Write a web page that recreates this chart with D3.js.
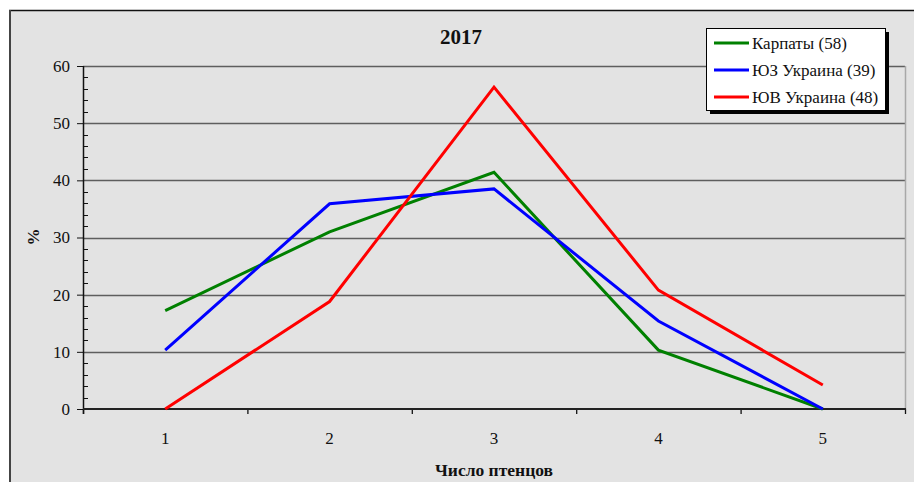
<!DOCTYPE html>
<html>
<head>
<meta charset="utf-8">
<script src="https://cdn.jsdelivr.net/npm/d3@7"></script>
<style>
  html, body { margin: 0; padding: 0; background: #ffffff; }
  svg { display: block; font-family: "Liberation Serif", "Times New Roman", serif; }
  svg text { font-family: "Liberation Serif", "Times New Roman", serif; }
</style>
</head>
<body>
<svg id="chart" width="914" height="482"></svg>
<script>
// Brood size distribution, 2017 (% of nests)
const categories = [1, 2, 3, 4, 5];
const seriesNames = ["Карпаты (58)", "ЮЗ Украина (39)", "ЮВ Украина (48)"];
const karpaty = [17.2, 31.0, 41.4, 10.3, 0];
const yzUkraine = [10.3, 35.9, 38.5, 15.4, 0];
const yvUkraine = [0, 18.8, 56.3, 20.8, 4.2];
const seriesColors = ["#008000", "#0000ff", "#ff0000"];
const yTicks = [0, 10, 20, 30, 40, 50, 60];
const chartTitle = "2017";
const xTitle = "Число птенцов";
const yTitle = "%";

const seriesValues = [karpaty, yzUkraine, yvUkraine];

const svg = d3.select("#chart");

// chart area background and frame
svg.append("rect").attr("x", 10).attr("y", 10).attr("width", 910).attr("height", 480)
  .attr("fill", "#e3e3e3");
svg.append("line").attr("x1", 9).attr("x2", 914).attr("y1", 10.5).attr("y2", 10.5)
  .attr("stroke", "#111").attr("stroke-width", 1.5);
svg.append("line").attr("x1", 10).attr("x2", 10).attr("y1", 10).attr("y2", 482)
  .attr("stroke", "#444").attr("stroke-width", 2);

const plot = { left: 83, right: 905, top: 66, bottom: 409 };

const x = d3.scaleBand().domain(categories).range([plot.left, plot.right]);
const y = d3.scaleLinear().domain([0, 60]).range([plot.bottom, plot.top]);

// horizontal gridlines
svg.append("g").selectAll("line").data(yTicks.filter(d => d > 0)).join("line")
  .attr("x1", plot.left).attr("x2", plot.right)
  .attr("y1", d => Math.round(y(d)) + 0.5).attr("y2", d => Math.round(y(d)) + 0.5)
  .attr("stroke", "#5e5e5e").attr("stroke-width", 1.3);

// right edge of plot area
svg.append("line").attr("x1", plot.right + 0.5).attr("x2", plot.right + 0.5)
  .attr("y1", plot.top).attr("y2", plot.bottom)
  .attr("stroke", "#a8a8a8").attr("stroke-width", 1.5);

// y axis: major ticks outside, minor ticks inside
const yAxis = svg.append("g").attr("transform", `translate(${plot.left},0)`)
  .call(d3.axisLeft(y).tickValues(yTicks).tickSize(6).tickPadding(7).tickFormat(d3.format("d")))
  .attr("font-family", "Liberation Serif");
yAxis.select(".domain").remove();
yAxis.selectAll("line").attr("stroke", "#111");
yAxis.selectAll("text").attr("font-size", 17).attr("fill", "#111");

const minor = d3.range(0, 61, 2).filter(d => d % 10 !== 0);
svg.append("g").selectAll("line").data(minor).join("line")
  .attr("x1", plot.left).attr("x2", plot.left + 5)
  .attr("y1", d => Math.round(y(d)) + 0.5).attr("y2", d => Math.round(y(d)) + 0.5)
  .attr("stroke", "#111").attr("stroke-width", 1);

svg.append("line").attr("x1", plot.left + 0.5).attr("x2", plot.left + 0.5)
  .attr("y1", plot.top).attr("y2", plot.bottom + 5)
  .attr("stroke", "#111").attr("stroke-width", 1.5);

// x axis: ticks at category boundaries, labels at category centres
const boundaries = categories.map(c => x(c)).concat([plot.right]);
svg.append("g").selectAll("line").data(boundaries).join("line")
  .attr("x1", d => d + 0.5).attr("x2", d => d + 0.5)
  .attr("y1", plot.bottom).attr("y2", plot.bottom + 5)
  .attr("stroke", "#111").attr("stroke-width", 1.3);
svg.append("line").attr("x1", plot.left).attr("x2", plot.right + 1)
  .attr("y1", plot.bottom).attr("y2", plot.bottom)
  .attr("stroke", "#222").attr("stroke-width", 2);
svg.append("g").selectAll("text").data(categories).join("text")
  .attr("x", d => x(d) + x.bandwidth() / 2).attr("y", 444)
  .attr("text-anchor", "middle").attr("font-size", 17).attr("fill", "#111")
  .text(d => d);

// series lines
const line = d3.line()
  .x((d, i) => x(categories[i]) + x.bandwidth() / 2)
  .y(d => y(d));
svg.append("g").selectAll("path").data(seriesValues).join("path")
  .attr("d", d => line(d))
  .attr("fill", "none")
  .attr("stroke", (d, i) => seriesColors[i])
  .attr("stroke-width", 3)
  .attr("stroke-linejoin", "miter");

// titles
svg.append("text").attr("x", 461).attr("y", 44).attr("text-anchor", "middle")
  .attr("font-size", 21).attr("font-weight", "bold").attr("fill", "#111").text(chartTitle);
svg.append("text").attr("x", 494).attr("y", 476).attr("text-anchor", "middle")
  .attr("font-size", 17.5).attr("font-weight", "bold").attr("fill", "#111").text(xTitle);
svg.append("text").attr("transform", "translate(39,237) rotate(-90)").attr("text-anchor", "middle")
  .attr("font-size", 17).attr("font-weight", "bold").attr("fill", "#111").text(yTitle);

// legend
const lg = svg.append("g").attr("transform", "translate(706,28)");
lg.append("rect").attr("x", 4).attr("y", 4).attr("width", 179).attr("height", 82).attr("fill", "#000");
lg.append("rect").attr("x", 0.5).attr("y", 0.5).attr("width", 179).attr("height", 82)
  .attr("fill", "#fff").attr("stroke", "#000").attr("stroke-width", 1);
const items = lg.selectAll("g.item").data(seriesNames).join("g")
  .attr("transform", (d, i) => `translate(0,${15 + i * 27})`);
items.append("line").attr("x1", 8).attr("x2", 43).attr("y1", 0).attr("y2", 0)
  .attr("stroke", (d, i) => seriesColors[i]).attr("stroke-width", 3);
items.append("text").attr("x", 46).attr("y", 6).attr("font-size", 17).attr("fill", "#111")
  .text(d => d);
</script>
</body>
</html>
